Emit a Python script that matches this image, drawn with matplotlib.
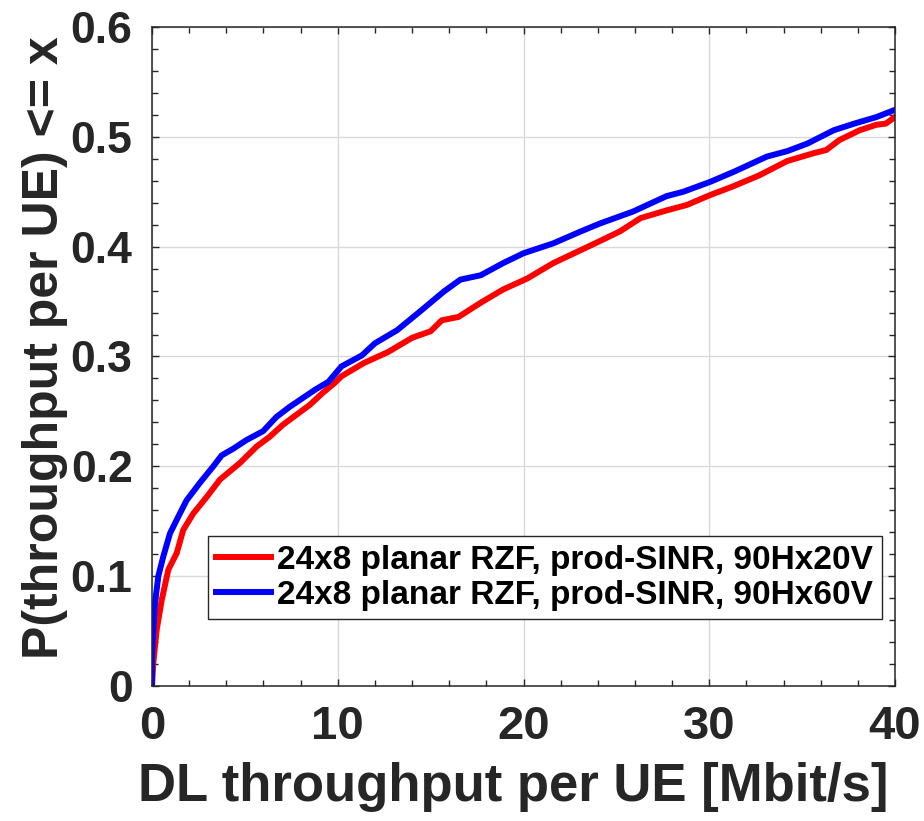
import numpy as np
import matplotlib.pyplot as plt
from matplotlib.ticker import MultipleLocator

# values
x_red = [0.0, 0.07, 0.25, 0.52, 0.88, 1.33, 1.68, 2.22, 2.94, 3.66, 4.73, 5.63, 6.34,
         7.06, 7.78, 8.5, 9.2, 9.84, 10.2, 11.4, 12.7, 14.0, 15.0, 15.6, 16.5, 17.7,
         18.9, 20.2, 21.6, 23.1, 24.1, 25.2, 26.3, 27.7, 28.8, 30.05, 31.3, 32.7, 34.2,
         35.6, 36.3, 37.0, 38.1, 39.0, 39.5, 40.0]
p_red = [0.0, 0.021, 0.051, 0.078, 0.106, 0.121, 0.142, 0.157, 0.172, 0.188, 0.203, 0.218, 0.227,
         0.238, 0.247, 0.256, 0.267, 0.276, 0.282, 0.294, 0.304, 0.317, 0.323, 0.333, 0.336, 0.349,
         0.361, 0.371, 0.385, 0.397, 0.405, 0.414, 0.426, 0.433, 0.438, 0.447, 0.455, 0.465, 0.478,
         0.485, 0.488, 0.497, 0.506, 0.511, 0.512, 0.518]

x_blue = [0.0, 0.0, 0.07, 0.16, 0.34, 0.61, 0.97, 1.41, 1.86, 2.58, 3.3, 3.75, 4.37, 5.09,
          5.98, 6.7, 7.4, 8.1, 8.8, 9.5, 10.2, 11.3, 12.0, 13.2, 14.5, 15.7, 16.6, 17.7,
          18.9, 20.0, 21.6, 23.1, 24.1, 25.9, 27.7, 28.6, 30.05, 31.3, 33.1, 34.2, 35.3,
          36.7, 37.8, 39.0, 40.0]
p_blue = [0.0, 0.027, 0.051, 0.075, 0.1, 0.118, 0.139, 0.154, 0.169, 0.185, 0.2, 0.21, 0.216, 0.224,
          0.232, 0.245, 0.254, 0.262, 0.27, 0.277, 0.291, 0.301, 0.312, 0.324, 0.342, 0.359, 0.37, 0.374,
          0.385, 0.394, 0.403, 0.414, 0.421, 0.432, 0.446, 0.45, 0.459, 0.468, 0.482, 0.487, 0.494,
          0.506, 0.512, 0.518, 0.5246]

labels = ['24x8 planar RZF, prod-SINR, 90Hx20V', '24x8 planar RZF, prod-SINR, 90Hx60V']

plt.rcParams['font.family'] = ['Liberation Sans', 'DejaVu Sans']
plt.rcParams['font.weight'] = 'bold'

fig = plt.figure(figsize=(9.24, 8.21), dpi=100)
ax = fig.add_axes([152 / 924, 1 - 686 / 821, (895 - 152) / 924, (686 - 27) / 821])

ax.plot(x_red, p_red, color='#ff0000', lw=4.3, label=labels[0])
ax.plot(x_blue, p_blue, color='#0000ff', lw=4.3, label=labels[1])

ax.set_xlim(0, 40)
ax.set_ylim(0, 0.6)
ax.xaxis.set_major_locator(MultipleLocator(10))
ax.xaxis.set_minor_locator(MultipleLocator(2))
ax.yaxis.set_major_locator(MultipleLocator(0.1))
ax.yaxis.set_minor_locator(MultipleLocator(0.02))
ax.yaxis.set_major_formatter(plt.FuncFormatter(lambda v, _: '0' if abs(v) < 1e-9 else f'{v:.1f}'))

ax.grid(True, which='major', color='#d9d9d9', lw=1.0)
ax.tick_params(which='both', direction='in', top=True, right=True, colors='#262626',
               labelcolor='#262626', width=1.0)
ax.tick_params(which='major', length=5, pad=14)
ax.tick_params(which='minor', length=4)
ax.tick_params(axis='x', labelsize=34)
ax.tick_params(axis='y', labelsize=32)
for s in ax.spines.values():
    s.set_color('#262626')
    s.set_linewidth(1.1)

ax.set_xlabel('DL throughput per UE [Mbit/s]', fontsize=38, fontweight='bold', color='#262626')
ax.xaxis.set_label_coords(0.486, -0.115)
ax.set_ylabel('P(throughput per UE) <= x', fontsize=36, fontweight='bold', color='#262626')
ax.yaxis.set_label_coords(-0.113, 0.514)

leg = ax.legend(loc='lower left', bbox_to_anchor=(0.0754, 0.1017), fontsize=24, frameon=True,
                fancybox=False, framealpha=1, edgecolor='#262626', handlelength=1.65,
                handletextpad=0.18, borderpad=0.25, labelspacing=0.12, borderaxespad=0)
leg.get_frame().set_linewidth(1.0)

fig.savefig('out.png', dpi=100)
